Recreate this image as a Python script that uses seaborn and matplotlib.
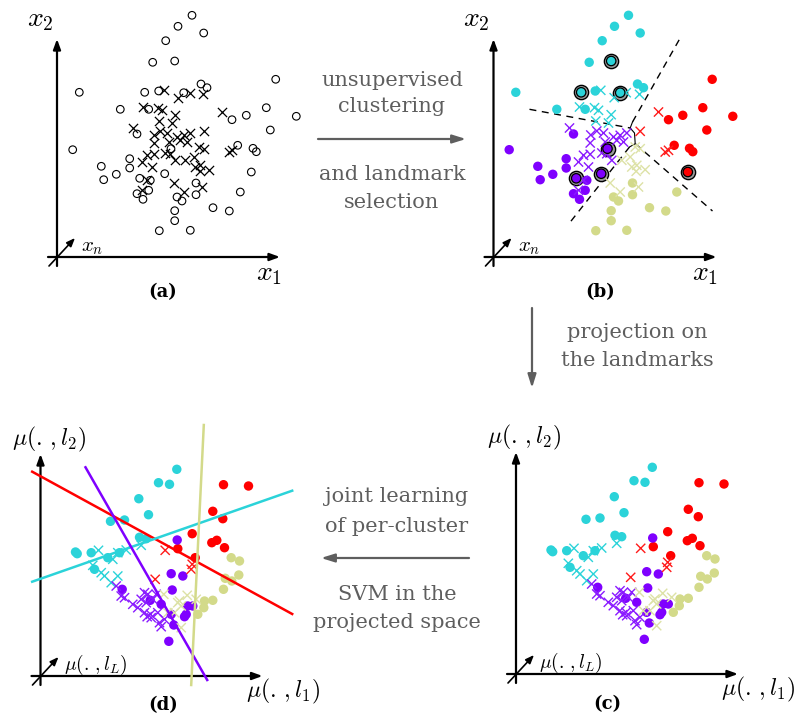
import matplotlib
matplotlib.use('Agg')
import matplotlib.pyplot as plt
import seaborn as sns
import pandas as pd

# ---- original space, panels (a) and (b), local pixel units from the origin ----
orig_circ_x = [135, 121, 146.7, 108.7, 95.7, 117.7, 22.3, 87.7, 101.7, 126.7, 144, 150, 63.3, 91.7,
               218.7, 209.3, 189.3, 175, 239.3, 213.3, 180.7, 196, 199.3, 194.3,
               15.7, 80, 72.7, 72.7, 44.3, 46.7, 59.3, 82.7, 93.3, 107.7, 114, 80, 91.7, 86,
               183.3, 139, 139, 120, 125, 156, 172.3, 117.7, 117.7, 102.3, 133.3]
orig_circ_y = [241.7, 230.7, 224, 216.3, 194.7, 196, 164.7, 164.7, 166, 164.3, 173, 169.3, 147.7, 147.7,
               177.7, 149.3, 141.7, 137.3, 140.7, 127, 111.7, 108.7, 105.3, 85,
               107.3, 123, 98.3, 89, 90.7, 77.3, 82.7, 78.7, 76.7, 83.3, 108.3, 63.3, 66.7, 57.7,
               65, 74, 62.3, 60, 56, 49.3, 46, 46.3, 36.3, 26.3, 26.7]
orig_circ_lab = ['c'] * 14 + ['r'] * 10 + ['p'] * 14 + ['y'] * 11
landmarks = [5, 7, 9, 23, 31, 33, 34]

orig_cross_x = [107.3, 120.7, 132.7, 146, 86, 101, 105, 117.7, 102.3, 115,
                165, 146.7, 171.7, 175,
                76, 97.3, 103.3, 110, 120, 126.7, 133.3, 96.7, 111.7, 123.3, 130, 90, 96.7, 108.3,
                113.3, 118.3, 85, 95, 90, 85,
                141.7, 146.7, 128.3, 136.7, 138.3, 143.3, 151.7, 142.7, 116.7, 126.7, 145]
orig_cross_y = [166.7, 159.3, 164.3, 162.7, 150, 149.3, 146.7, 142.3, 136, 134,
                145, 125.7, 105, 106.7,
                129, 122, 126, 124, 120, 121.7, 124, 114, 115, 116.7, 115, 101.7, 102.7, 104,
                103.3, 96.7, 95, 90, 76.7, 66.7,
                110, 108.3, 96.7, 100, 90, 91.7, 87.3, 85.7, 74, 65, 70]
orig_cross_lab = ['c'] * 10 + ['r'] * 4 + ['p'] * 20 + ['y'] * 11

# ---- projected space, panels (c) and (d) ----
proj_circ_x = [136.3, 118, 129, 98.3, 108, 84, 70, 99, 105.7, 35, 36.7, 50.7, 67.3, 79, 54,
               183, 208, 172.3, 182.3, 151.7, 137.3, 171.3, 176.3, 184, 154.7,
               136.7, 130.7, 142.3, 131.7, 81.7, 109.7, 120.7, 130.7, 133.3, 128.3, 147.3, 152.3, 144, 145.7,
               190.7, 199, 184.7, 191.3, 198.3, 183, 172.3, 164, 157.3, 163.3]
proj_circ_y = [206.7, 193.3, 191.7, 177.3, 161.3, 156, 154.7, 138.7, 137.3, 124, 122.3, 123.3, 118.3, 123.3, 106.7,
               191.3, 190, 164.7, 157.3, 142.3, 127.3, 133.3, 135.7, 128.3, 118.3,
               136, 102.3, 100, 86, 86.7, 75.7, 71.7, 61.7, 51, 34.7, 70, 70, 59.3, 61.7,
               118.3, 115, 97.7, 95, 101, 86.7, 75.7, 75, 61.7, 68.3]
proj_circ_lab = ['c'] * 15 + ['r'] * 10 + ['p'] * 14 + ['y'] * 10

proj_cross_x = [58, 72.3, 77.3, 85.7, 100.7, 52.3, 60.7, 64, 77.3, 70.7,
                124.7, 114.7, 151.7, 150.7,
                75.7, 80.7, 84, 92.3, 100.7, 104, 105.7, 107.3, 112.3, 104, 106.7, 110.7, 117.3, 119,
                120.7, 124, 97.3, 115.7, 110,
                123.3, 137.3, 146.7, 140.7, 134, 127.3, 140.7, 155.7, 139]
proj_cross_y = [125.7, 116.7, 123.3, 126, 130.7, 110.7, 103.3, 100, 100, 93.3,
                125.7, 96.7, 111.7, 106.7,
                90, 80, 78.3, 71.7, 76.7, 83.3, 73.3, 81.7, 76.7, 63.3, 59.3, 58.3, 63.3, 53.3,
                49.3, 56.7, 68.3, 81.7, 61.7,
                81.7, 73.3, 80.7, 70, 63.3, 63.3, 48.3, 76.7, 75]
proj_cross_lab = ['c'] * 10 + ['r'] * 4 + ['p'] * 19 + ['y'] * 9

# per-cluster separators in (d) and cluster boundaries in (b)
svm_lines = {'r': ([-8.3, 251.7], [204.3, 62]),
             'c': ([-8.3, 251.7], [94.3, 185.3]),
             'p': ([45, 166.7], [208.7, -4]),
             'y': ([163.3, 150.7], [251, -9])}
bound_lines = [([36, 136.7], [147.7, 129]),
               ([139, 186.7], [135, 219]),
               ([141.7, 219], [113.3, 46]),
               ([136, 76], [110, 34])]
bound_knot = ([139, 136.7, 141, 141.7, 136], [135, 129, 124, 113.3, 110])

palette = {'c': '#2bd3d9', 'p': '#7f00ff', 'r': '#ff0000', 'y': '#d3da8a'}
cross_palette = {'c': '#2bd3d9', 'p': '#8a1aff', 'r': '#ff1a1a', 'y': '#dde2a6'}
gray = '#5e5e5e'

W, H = 797, 718
plt.rcParams['mathtext.fontset'] = 'cm'
fig = plt.figure(figsize=(W / 100, H / 100), dpi=100)

circ = pd.DataFrame({'x': orig_circ_x, 'y': orig_circ_y, 'lab': orig_circ_lab})
cross = pd.DataFrame({'x': orig_cross_x, 'y': orig_cross_y, 'lab': orig_cross_lab})
pcirc = pd.DataFrame({'x': proj_circ_x, 'y': proj_circ_y, 'lab': proj_circ_lab})
pcross = pd.DataFrame({'x': proj_cross_x, 'y': proj_cross_y, 'lab': proj_cross_lab})


def panel(ox, oy, x0=-70, x1=270, y0=-50, y1=265):
    ax = fig.add_axes([(ox + x0) / W, (H - (oy - y0)) / H, (x1 - x0) / W, (y1 - y0) / H])
    ax.set_xlim(x0, x1)
    ax.set_ylim(y0, y1)
    ax.set_axis_off()
    return ax


def draw_axes(ax, xtip, ytip, xlab, ylab, nlab, tag, tagpos, projected=False):
    arw = dict(arrowstyle='-|>,head_width=0.22,head_length=0.6', color='black', lw=1.6,
               shrinkA=0, shrinkB=0)
    ax.annotate('', xy=(xtip, 0), xytext=(-9, 0), arrowprops=arw)
    ax.annotate('', xy=(0, ytip), xytext=(0, -9), arrowprops=arw)
    ax.annotate('', xy=(18, 19), xytext=(-8, -9),
                arrowprops=dict(arrowstyle='-|>,head_width=0.2,head_length=0.5', color='black',
                                lw=1.2, shrinkA=0, shrinkB=0))
    if projected:
        ax.text(242, -15, xlab, fontsize=17, ha='center', va='center')
        ax.text(8, 237, ylab, fontsize=17, ha='center', va='center')
        ax.text(23, 11, nlab, fontsize=14, ha='left', va='center')
    else:
        ax.text(212, -16, xlab, fontsize=20, ha='center', va='center')
        ax.text(-17, 238, ylab, fontsize=20, ha='center', va='center')
        ax.text(24, 10, nlab, fontsize=15, ha='left', va='center')
    ax.text(tagpos[0], tagpos[1], tag, fontsize=13, fontweight='bold', family='DejaVu Serif',
            ha='center', va='center')


def colored_points(ax, cdf, xdf):
    sns.scatterplot(data=cdf, x='x', y='y', hue='lab', palette=palette, s=46, marker='o',
                    linewidth=0, legend=False, ax=ax, zorder=3)
    sns.scatterplot(data=xdf, x='x', y='y', hue='lab', palette=cross_palette, s=44, marker='x',
                    linewidth=1.0, legend=False, ax=ax, zorder=3)


# (a)
ax_a = panel(57, 257)
sns.scatterplot(data=circ, x='x', y='y', marker='o', s=30, facecolor='none', edgecolor='black',
                linewidth=0.8, ax=ax_a)
sns.scatterplot(data=cross, x='x', y='y', marker='x', s=44, color='black', linewidth=0.9, ax=ax_a)
ax_a.set_xlim(-70, 270)
ax_a.set_ylim(-50, 265)
draw_axes(ax_a, 223, 218, '$x_1$', '$x_2$', '$x_n$', '(a)', (106, -35))

# (b)
ax_b = panel(493.5, 257)
for xs, ys in bound_lines:
    ax_b.plot(xs, ys, color='black', lw=1.0, ls=(0, (5, 4)))
ax_b.plot(bound_knot[0], bound_knot[1], color='black', lw=0.8)
lm = circ.iloc[landmarks]
sns.scatterplot(data=lm, x='x', y='y', marker='o', s=105, color='#9a9a9a', edgecolor='black',
                linewidth=1.0, ax=ax_b, zorder=2)
colored_points(ax_b, circ, cross)
sns.scatterplot(data=lm, x='x', y='y', hue='lab', palette=palette, marker='o', s=46,
                edgecolor='black', linewidth=0.9, legend=False, ax=ax_b, zorder=4)
ax_b.set_xlim(-70, 270)
ax_b.set_ylim(-50, 265)
draw_axes(ax_b, 223, 218, '$x_1$', '$x_2$', '$x_n$', '(b)', (106.5, -35))

# (c)
ax_c = panel(516, 674)
colored_points(ax_c, pcirc, pcross)
ax_c.set_xlim(-70, 270)
ax_c.set_ylim(-50, 265)
draw_axes(ax_c, 222, 222, r'$\mu(.\,,l_1)$', r'$\mu(.\,,l_2)$', r'$\mu(.\,,l_L)$',
          '(c)', (91, -30), projected=True)

# (d)
ax_d = panel(40.5, 676)
colored_points(ax_d, pcirc, pcross)
for lab, (xs, ys) in svm_lines.items():
    sns.lineplot(x=xs, y=ys, color=palette[lab], lw=1.8, ax=ax_d, sort=False, zorder=4)
ax_d.set_xlim(-70, 270)
ax_d.set_ylim(-50, 265)
draw_axes(ax_d, 222, 222, r'$\mu(.\,,l_1)$', r'$\mu(.\,,l_2)$', r'$\mu(.\,,l_L)$',
          '(d)', (123, -29), projected=True)

# transitions between panels
ov = fig.add_axes([0, 0, 1, 1])
ov.set_xlim(0, W)
ov.set_ylim(H, 0)
ov.set_axis_off()
garw = dict(arrowstyle='-|>,head_width=0.25,head_length=0.8', color=gray, lw=1.6,
            shrinkA=0, shrinkB=0)
tfont = dict(family='DejaVu Serif', fontsize=15, color=gray, ha='center', va='center')
ov.annotate('', xy=(466, 139), xytext=(318, 139), arrowprops=garw)
ov.text(392, 80, 'unsupervised', **tfont)
ov.text(392, 106, 'clustering', **tfont)
ov.text(392, 174, 'and landmark', **tfont)
ov.text(392, 203, 'selection', **tfont)
ov.annotate('', xy=(532, 388), xytext=(532, 308), arrowprops=garw)
ov.text(637, 332, 'projection on', **tfont)
ov.text(637, 361, 'the landmarks', **tfont)
ov.annotate('', xy=(321, 558), xytext=(469, 558), arrowprops=garw)
ov.text(397, 497, 'joint learning', **tfont)
ov.text(397, 527, 'of per-cluster', **tfont)
ov.text(397, 594, 'SVM in the', **tfont)
ov.text(397, 623, 'projected space', **tfont)

fig.savefig('out.png', dpi=100)
